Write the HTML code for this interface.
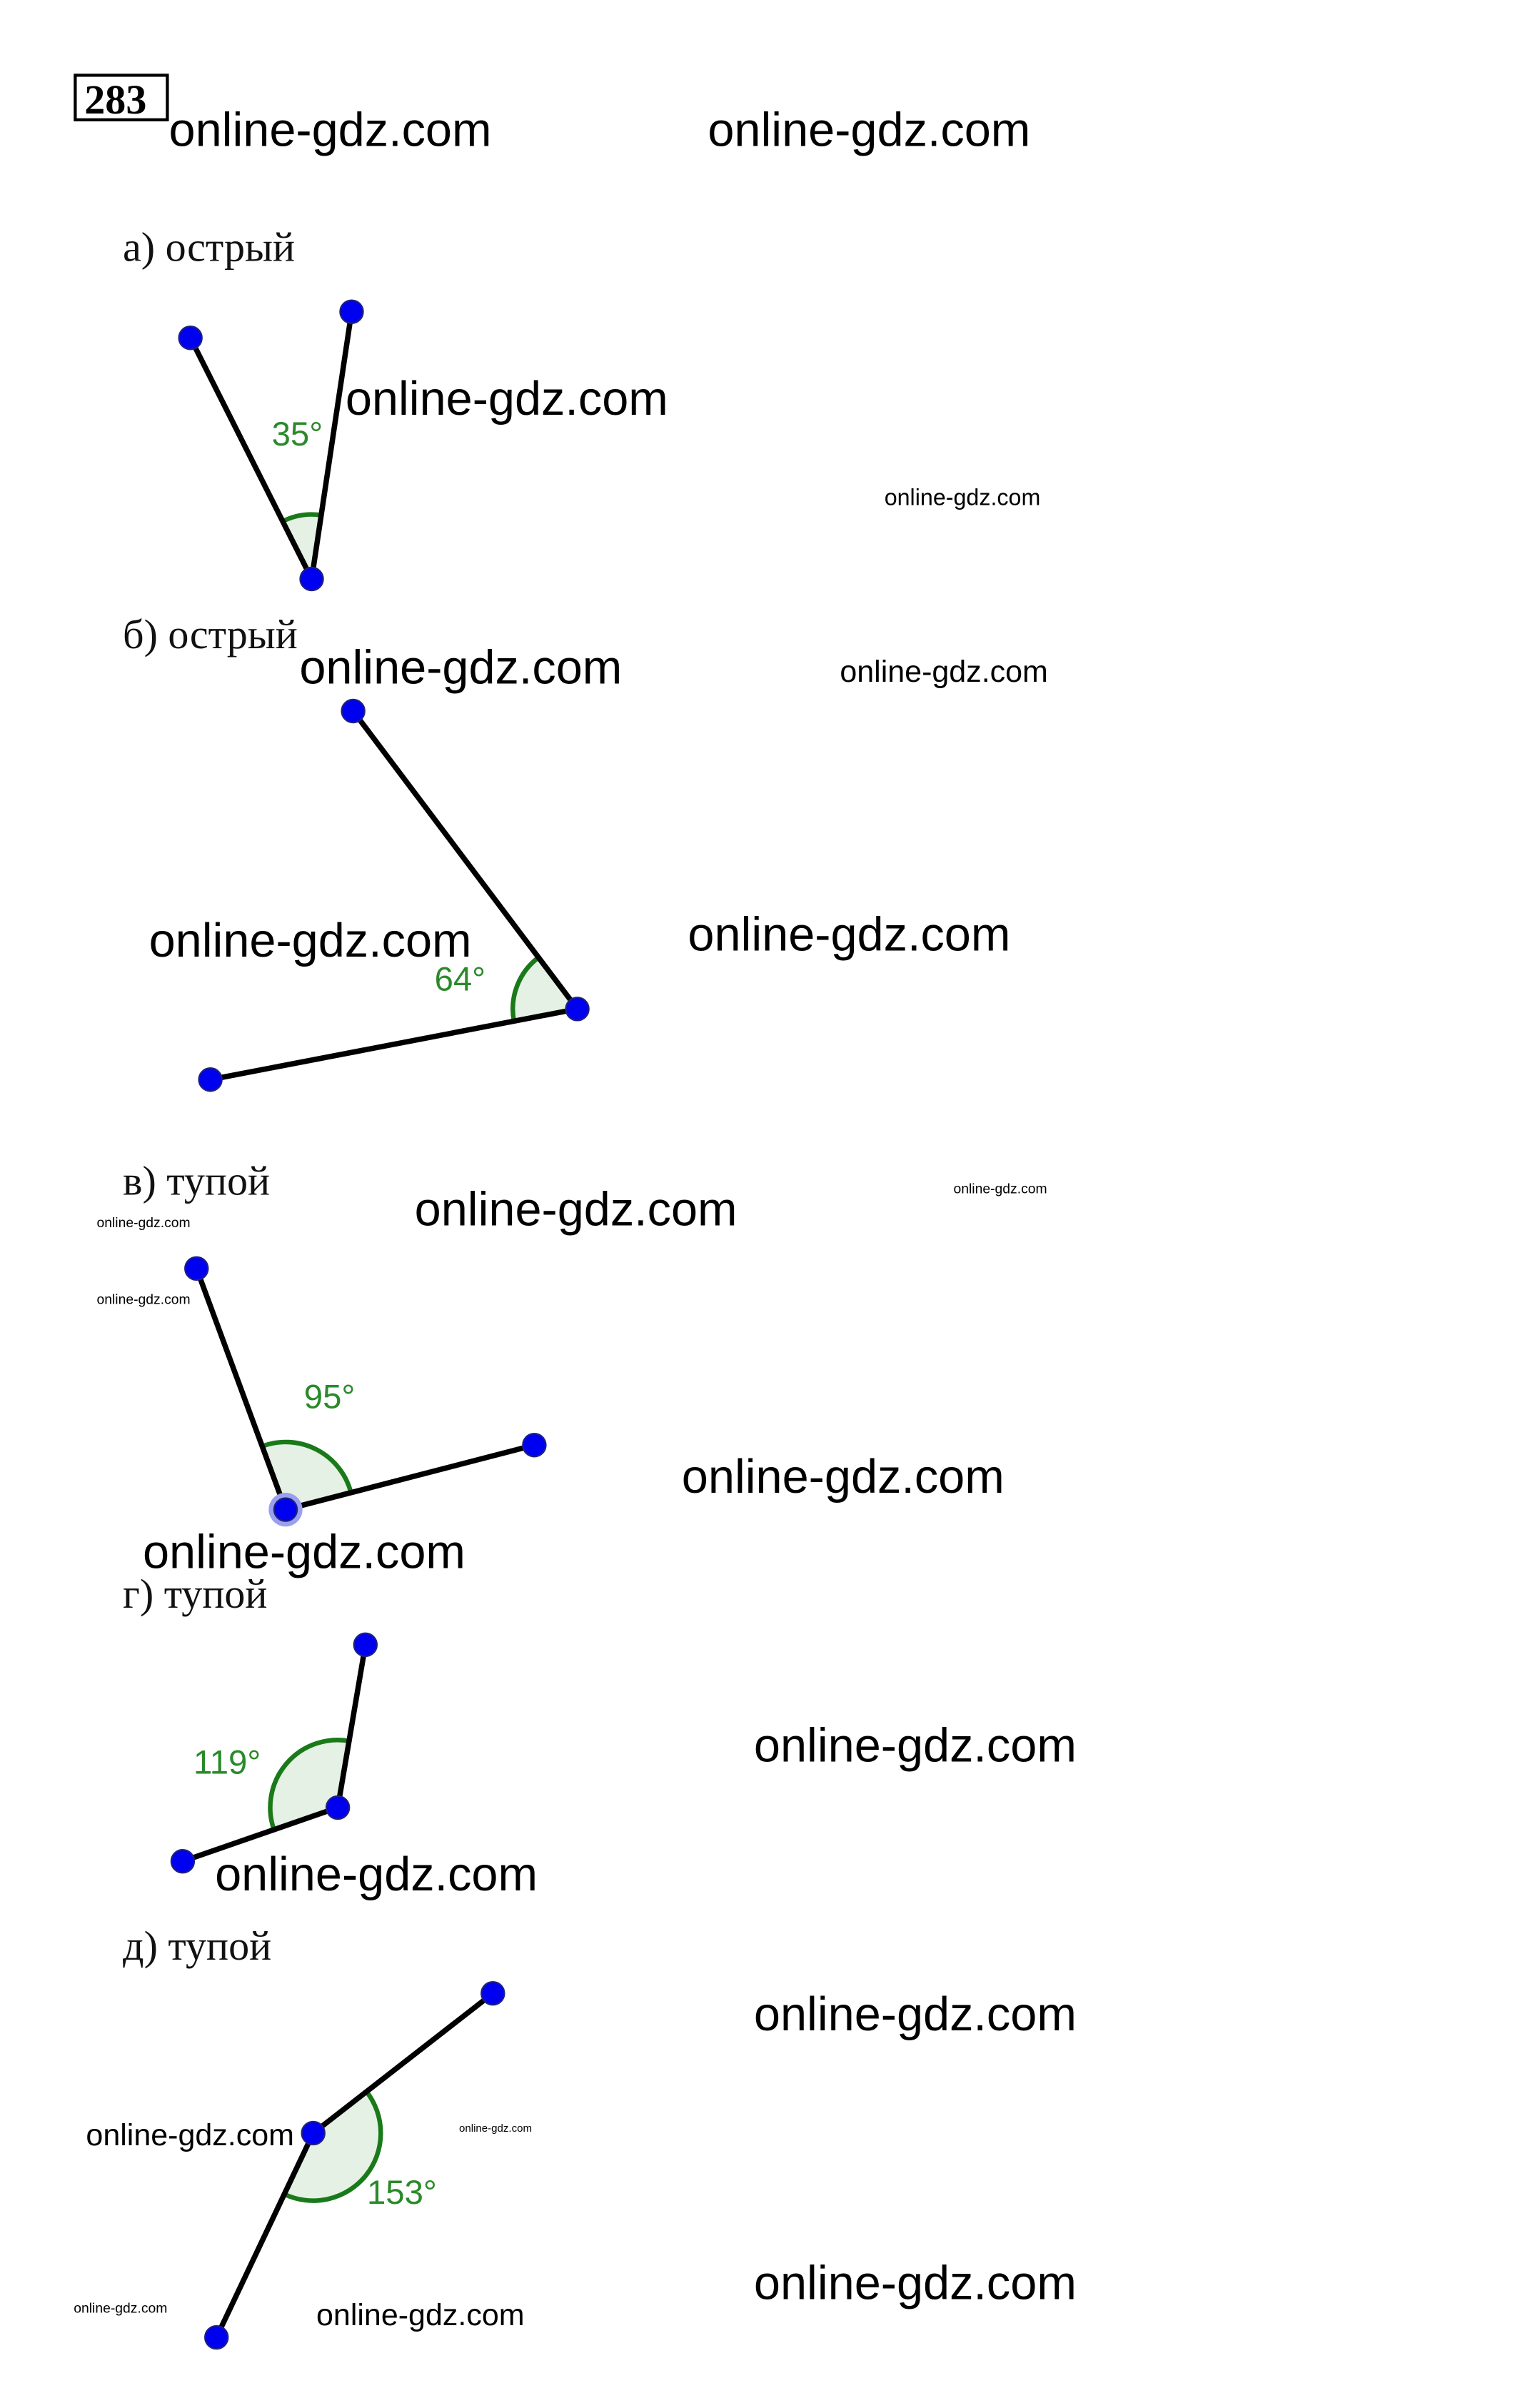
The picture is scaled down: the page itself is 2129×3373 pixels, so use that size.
<!DOCTYPE html>
<html><head><meta charset="utf-8"><style>
html,body{margin:0;padding:0;background:#fff;width:2129px;height:3373px;overflow:hidden}
svg{display:block}
.w{font-family:"Liberation Sans",sans-serif;fill:#000}
.l{font-family:"Liberation Serif","DejaVu Serif",serif;fill:#111;font-size:27px}
.g{font-family:"Liberation Sans",sans-serif;fill:#2a8a2a;font-size:22px}
</style></head><body>
<svg id="s" width="2129" height="3373" viewBox="0 0 990 1568" preserveAspectRatio="none" xmlns="http://www.w3.org/2000/svg">
<rect x="49" y="49" width="60" height="29" fill="none" stroke="#000" stroke-width="2"/>
<text x="55" y="74" font-family="Liberation Serif,serif" font-weight="bold" font-size="27">283</text>
<text class="l" x="80" y="170">а) острый</text>
<text class="l" x="80" y="422">б) острый</text>
<text class="l" x="80" y="778">в) тупой</text>
<text class="l" x="80" y="1047">г) тупой</text>
<text class="l" x="80" y="1276">д) тупой</text>
<text class="g" x="177" y="290">35°</text>
<text class="g" x="283" y="645">64°</text>
<text class="g" x="198" y="917">95°</text>
<text class="g" x="126" y="1155">119°</text>
<text class="g" x="239" y="1435">153°</text>
<g id="geo"></g>
<g class="w">
<text x="110" y="95" font-size="31">online-gdz.com</text>
<text x="461" y="95" font-size="31">online-gdz.com</text>
<text x="225" y="270" font-size="31">online-gdz.com</text>
<text x="576" y="329" font-size="15">online-gdz.com</text>
<text x="195" y="445" font-size="31">online-gdz.com</text>
<text x="547" y="444" font-size="20">online-gdz.com</text>
<text x="97" y="623" font-size="31">online-gdz.com</text>
<text x="448" y="619" font-size="31">online-gdz.com</text>
<text x="270" y="798" font-size="31">online-gdz.com</text>
<text x="621" y="777" font-size="9">online-gdz.com</text>
<text x="63" y="799" font-size="9">online-gdz.com</text>
<text x="63" y="849" font-size="9">online-gdz.com</text>
<text x="444" y="972" font-size="31">online-gdz.com</text>
<text x="93" y="1021" font-size="31">online-gdz.com</text>
<text x="491" y="1147" font-size="31">online-gdz.com</text>
<text x="140" y="1231" font-size="31">online-gdz.com</text>
<text x="491" y="1322" font-size="31">online-gdz.com</text>
<text x="56" y="1397" font-size="20">online-gdz.com</text>
<text x="299" y="1388" font-size="7">online-gdz.com</text>
<text x="491" y="1497" font-size="31">online-gdz.com</text>
<text x="48" y="1506" font-size="9">online-gdz.com</text>
<text x="206" y="1514" font-size="20">online-gdz.com</text>
</g>
</svg>
<script>
var A=[[[203,377],[124,220],[229,203],42],[[376,657],[230,463],[137,703],42],[[186,983],[128,826],[348,941],44],[[220,1177],[238,1071],[119,1212],44],[[204,1389],[321,1298],[141,1522],44]];
var h='';
A.forEach(function(a,i){var v=a[0],p=a[1],q=a[2],r=a[3];
var a1=Math.atan2(p[1]-v[1],p[0]-v[0]),a2=Math.atan2(q[1]-v[1],q[0]-v[0]);
var d=a2-a1;while(d>Math.PI)d-=2*Math.PI;while(d<-Math.PI)d+=2*Math.PI;
var x1=v[0]+r*Math.cos(a1),y1=v[1]+r*Math.sin(a1),x2=v[0]+r*Math.cos(a1+d),y2=v[1]+r*Math.sin(a1+d);
var sw=d>0?1:0;
h+='<path d="M'+v[0]+' '+v[1]+' L'+x1+' '+y1+' A'+r+' '+r+' 0 0 '+sw+' '+x2+' '+y2+' Z" fill="#e5f1e5"/>';
h+='<path d="M'+x1+' '+y1+' A'+r+' '+r+' 0 0 '+sw+' '+x2+' '+y2+'" fill="none" stroke="#1a7a1a" stroke-width="3"/>';
h+='<line x1="'+v[0]+'" y1="'+v[1]+'" x2="'+p[0]+'" y2="'+p[1]+'" stroke="#000" stroke-width="3.5"/>';
h+='<line x1="'+v[0]+'" y1="'+v[1]+'" x2="'+q[0]+'" y2="'+q[1]+'" stroke="#000" stroke-width="3.5"/>';
if(i==2)h+='<circle cx="'+v[0]+'" cy="'+v[1]+'" r="11" fill="#9aa0f0"/>';
[v,p,q].forEach(function(c){h+='<circle cx="'+c[0]+'" cy="'+c[1]+'" r="7.5" fill="#0000f0" stroke="#202080" stroke-width="1"/>';});
});
document.getElementById('geo').innerHTML=h;
</script>
</body></html>
